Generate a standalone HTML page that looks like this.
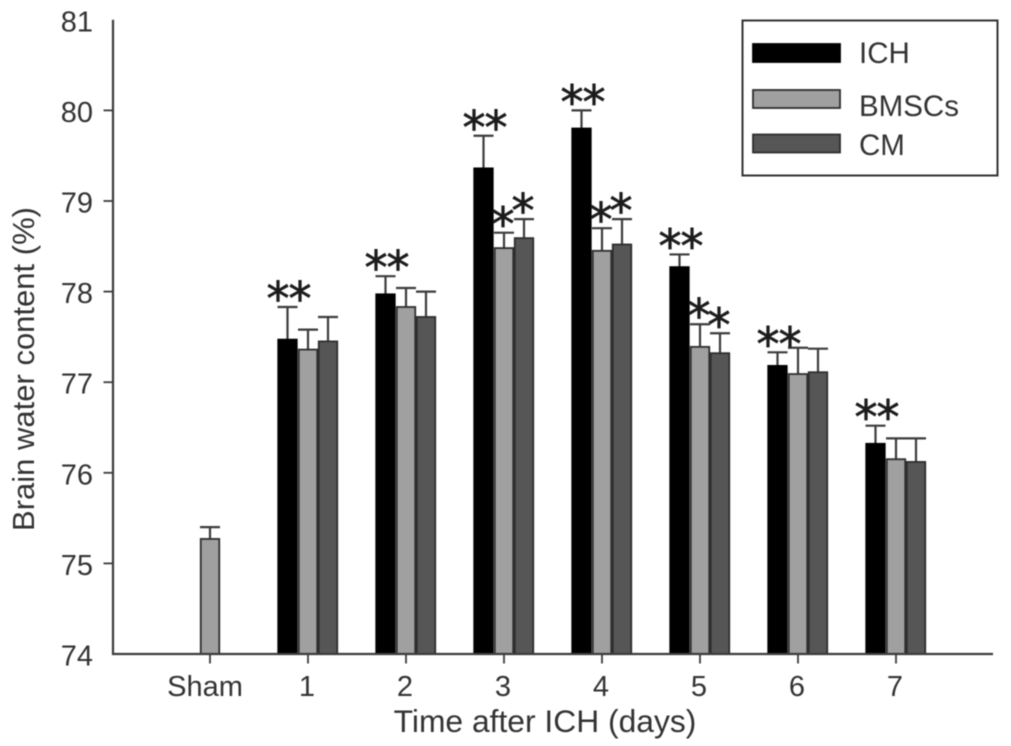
<!DOCTYPE html>
<html>
<head>
<meta charset="utf-8">
<title>Brain water content</title>
<style>
html,body{margin:0;padding:0;background:#fff;width:1011px;height:746px;overflow:hidden}
svg{display:block}
text{font-family:"Liberation Sans",sans-serif;fill:#333}
</style>
</head>
<body>
<svg id="chart" width="1011" height="746" viewBox="0 0 1011 746" xmlns="http://www.w3.org/2000/svg">
<g id="plot" style="filter:blur(0.45px)"></g>
</svg>
<script>
const categories = ['1','2','3','4','5','6','7'];
const shamLabel = 'Sham';
const shamValue = 75.27;
const shamError = 0.13;
const ichValues = [77.47,77.97,79.36,79.80,78.27,77.18,76.32];
const bmscValues = [77.36,77.83,78.48,78.45,77.39,77.09,76.15];
const cmValues = [77.45,77.72,78.59,78.52,77.32,77.11,76.12];
const ichErrors = [0.36,0.20,0.36,0.20,0.14,0.15,0.20];
const bmscErrors = [0.22,0.21,0.17,0.25,0.25,0.29,0.23];
const cmErrors = [0.27,0.28,0.21,0.28,0.22,0.26,0.26];
const yTicks = [74,75,76,77,78,79,80,81];
const seriesNames = ['ICH','BMSCs','CM'];

const NS = 'http://www.w3.org/2000/svg';
const plot = document.getElementById('plot');
const COLORS = ['#000000','#a0a0a0','#565656'];
const INK = '#3c3c3c';
const y = v => 654 - (v - 74) * 90.6;
const x = i => 210 + i * 98;
const BW = 20;

function add(tag, attrs, parent, txt){
  const el = document.createElementNS(NS, tag);
  for (const k in attrs) el.setAttribute(k, attrs[k]);
  if (txt !== undefined) el.textContent = txt;
  (parent || plot).appendChild(el);
  return el;
}

function drawBar(cx, val, err, color, name){
  const top = y(val), et = y(val + err);
  const l = add('line', {x1:cx, x2:cx, y1:top, y2:et, stroke:INK, 'stroke-width':2.2});
  
  
  const c = add('line', {x1:cx-10, x2:cx+10, y1:et, y2:et, stroke:INK, 'stroke-width':2.2});
  
  
  const r = add('rect', {x:cx-BW/2+0.75, y:top, width:BW-1.5, height:y(74)-top, fill:color, stroke:color==='#000000'?'#000':'#2e2e2e', 'stroke-width':1.8});
  
  
}

function drawStar(cx, val, name){
  const t = add('text', {x:cx, y:y(val)+8, 'text-anchor':'middle', 'font-size':46, style:'font-family:"DejaVu Sans",sans-serif;fill:#1c1c1c;stroke:#1c1c1c;stroke-width:0.7'}, plot, '*');
  
  
}

// bars
drawBar(x(0), shamValue, shamError, COLORS[1], 'bar-sham');
categories.forEach((c, i) => {
  const cx = x(i + 1);
  drawBar(cx - 20.5, ichValues[i], ichErrors[i], COLORS[0], 'bar-ich-day-' + c);
  drawBar(cx, bmscValues[i], bmscErrors[i], COLORS[1], 'bar-bmscs-day-' + c);
  drawBar(cx + 20, cmValues[i], cmErrors[i], COLORS[2], 'bar-cm-day-' + c);
});

// significance stars
categories.forEach((c, i) => {
  const cx = x(i + 1);
  const top = ichValues[i] + ichErrors[i];
  drawStar(cx - 30, top, 'significance-star-ich-a-day-' + c);
  drawStar(cx - 8, top, 'significance-star-ich-b-day-' + c);
  if (c === '3' || c === '4' || c === '5') {
    drawStar(cx - 1, bmscValues[i] + bmscErrors[i], 'significance-star-bmscs-day-' + c);
    drawStar(cx + 19, cmValues[i] + cmErrors[i], 'significance-star-cm-day-' + c);
  }
});

// axes
const ya = add('line', {x1:113, x2:113, y1:y(81), y2:y(74)+1, stroke:INK, 'stroke-width':2.2});


const xa = add('line', {x1:112, x2:993, y1:y(74), y2:y(74), stroke:INK, 'stroke-width':2.2});



yTicks.forEach(t => {
  if (t !== 74 && t !== 81) {
    const tk = add('line', {x1:103.5, x2:113, y1:y(t), y2:y(t), stroke:INK, 'stroke-width':1.8});
    
    
  }
  const lbl = add('text', {x:93, y:y(t)+11.5, 'text-anchor':'end', 'font-size':29}, plot, String(t));
  
  
});

[shamLabel].concat(categories).forEach((c, i) => {
  const tk = add('line', {x1:x(i), x2:x(i), y1:y(74), y2:y(74)+9.5, stroke:INK, 'stroke-width':1.8});
  
  
  const lbl = add('text', {x:i === 0 ? x(i)-5 : x(i)-1, y:696, 'text-anchor':'middle', 'font-size':29}, plot, c);
  
  
});

// axis titles
const xt = add('text', {x:545, y:732, 'text-anchor':'middle', 'font-size':31.8}, plot, 'Time after ICH (days)');


const yt = add('text', {x:0, y:0, 'text-anchor':'middle', 'font-size':31, transform:'translate(34,369) rotate(-90)'}, plot, 'Brain water content (%)');



// legend
const lg = add('g', {});


const box = add('rect', {x:742.5, y:20.5, width:255, height:155, fill:'#fff', stroke:'#333', 'stroke-width':2}, lg);


const legendSwatchY = [44, 90, 134.5];
const legendTextY = [63, 116, 155];
seriesNames.forEach((n, i) => {
  const s = add('rect', {x:753, y:legendSwatchY[i], width:87, height:18, fill:COLORS[i], stroke:i === 0 ? '#000' : '#2e2e2e', 'stroke-width':1.8}, lg);
  
  
  const t = add('text', {x:859, y:legendTextY[i], 'font-size':29.5}, lg, n);
  
  
});
</script>
</body>
</html>
